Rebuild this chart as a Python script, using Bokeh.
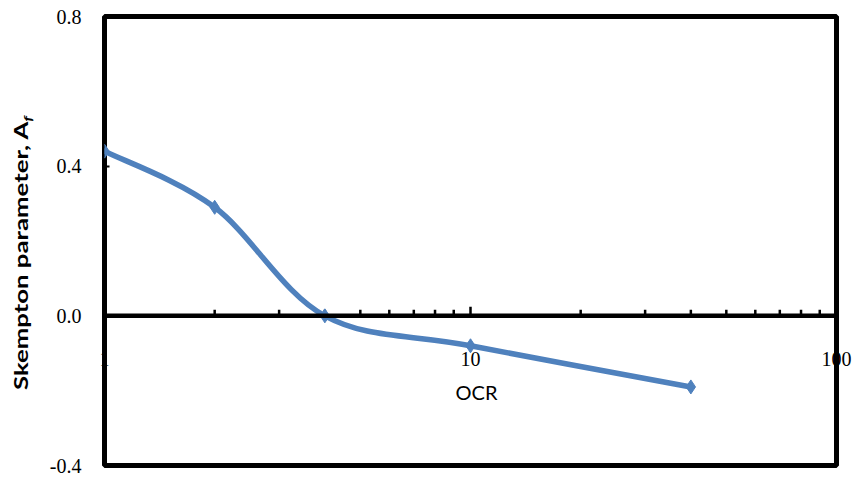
import numpy as np
from bokeh.plotting import figure
from bokeh.layouts import row
from bokeh.models import (Span, Label, FixedTicker, PrintfTickFormatter, ColumnDataSource, Div)
from bokeh.embed import file_html
from bokeh.resources import INLINE

# ---- data ----
ocr = [1, 2, 4, 10, 40]
af = [0.44, 0.29, 0.0, -0.08, -0.19]
y_ticks = [-0.4, 0.0, 0.4, 0.8]
x_tick_values = [1, 10, 100]
x_minor = [2, 3, 4, 5, 6, 7, 8, 9, 20, 30, 40, 50, 60, 70, 80, 90]
x_major_inner = [10]
x_title = "OCR"
y_title_html = "Skempton parameter, A<sub style='font-size:12px; font-style:italic'>f</sub>"

BLUE = "#4F81BD"
DIV_W = 36
W, H = 855 - DIV_W, 481
ML, MR, MT, MB = 104 - DIV_W, 19, 16, 16
frame_h = H - MT - MB

p = figure(width=W, height=H, x_axis_type="log", x_range=(1, 100), y_range=(-0.4, 0.8),
           output_backend="svg", toolbar_location=None,
           min_border_left=ML, min_border_right=MR, min_border_top=MT, min_border_bottom=MB)
p.grid.visible = False
p.outline_line_color = "black"
p.outline_line_width = 5
p.background_fill_color = "white"
p.border_fill_color = "white"

ya = p.yaxis[0]
ya.ticker = FixedTicker(ticks=y_ticks)
ya.formatter = PrintfTickFormatter(format="%.1f")
ya.axis_line_color = None
ya.major_tick_in = 5
ya.major_tick_out = 0
ya.major_tick_line_width = 2
ya.minor_tick_line_color = None
ya.major_label_standoff = 23
ya.major_label_text_font = "Liberation Serif"
ya.major_label_text_font_size = "20px"
ya.major_label_text_color = "black"

# x axis: labels drawn up near the zero line
xa = p.xaxis[0]
xa.ticker = FixedTicker(ticks=x_tick_values, minor_ticks=[])
xa.formatter = PrintfTickFormatter(format="%d")
xa.axis_line_color = None
xa.major_tick_in = 0
xa.major_tick_out = 0
xa.major_tick_line_color = None
xa.minor_tick_line_color = None
xa.major_label_standoff = -114
xa.major_label_text_font = "Liberation Serif"
xa.major_label_text_font_size = "20px"
xa.major_label_text_color = "black"

# zero line (x axis crossing at 0)
p.add_layout(Span(location=0, dimension="width", line_color="black", line_width=4.5))

# ticks on the zero line
unit_px = frame_h / (0.8 - (-0.4))
p.segment(x0=x_minor, y0=[0] * len(x_minor), x1=x_minor, y1=[6 / unit_px] * len(x_minor),
          line_color="black", line_width=2.5)
p.segment(x0=x_major_inner, y0=[0], x1=x_major_inner, y1=[9 / unit_px],
          line_color="black", line_width=2.5)

# smoothed line (Excel-like Catmull-Rom bezier in log space)
lx = np.log10(np.array(ocr, dtype=float))
ly = np.array(af, dtype=float)
n = len(lx)
b = {k: [] for k in ["x0", "y0", "x1", "y1", "cx0", "cy0", "cx1", "cy1"]}
for i in range(n - 1):
    i0 = max(i - 1, 0)
    i3 = min(i + 2, n - 1)
    c1x = lx[i] + (lx[i + 1] - lx[i0]) / 6
    c1y = ly[i] + (ly[i + 1] - ly[i0]) / 6
    c2x = lx[i + 1] - (lx[i3] - lx[i]) / 6
    c2y = ly[i + 1] - (ly[i3] - ly[i]) / 6
    b["x0"].append(10 ** lx[i]); b["y0"].append(ly[i])
    b["x1"].append(10 ** lx[i + 1]); b["y1"].append(ly[i + 1])
    b["cx0"].append(10 ** c1x); b["cy0"].append(c1y)
    b["cx1"].append(10 ** c2x); b["cy1"].append(c2y)
p.bezier(x0="x0", y0="y0", x1="x1", y1="y1", cx0="cx0", cy0="cy0", cx1="cx1", cy1="cy1",
         source=ColumnDataSource(b), line_color=BLUE, line_width=5.5, line_cap="round")
p.scatter(ocr, af, marker="diamond", size=14, fill_color=BLUE, line_color=BLUE)

# x title
p.add_layout(Label(x=372, y=74, x_units="screen", y_units="screen", text=x_title,
                   text_align="center", text_baseline="middle", text_font="Lato",
                   text_font_size="20px", text_color="black"))

# y title (rotated HTML text for the subscript f)
ydiv = Div(width=DIV_W, height=H, margin=0, text=(
    "<div style=\"position:absolute; left:23px; top:253px; "
    "transform:translate(-50%,-50%) rotate(-90deg) scaleX(1.43); white-space:nowrap; "
    "font-family:Lato; font-weight:bold; font-size:18px; color:black; line-height:1;\">"
    + y_title_html + "</div>"))

layout = row(ydiv, p)
open("out.html", "w").write(file_html(layout, INLINE))
